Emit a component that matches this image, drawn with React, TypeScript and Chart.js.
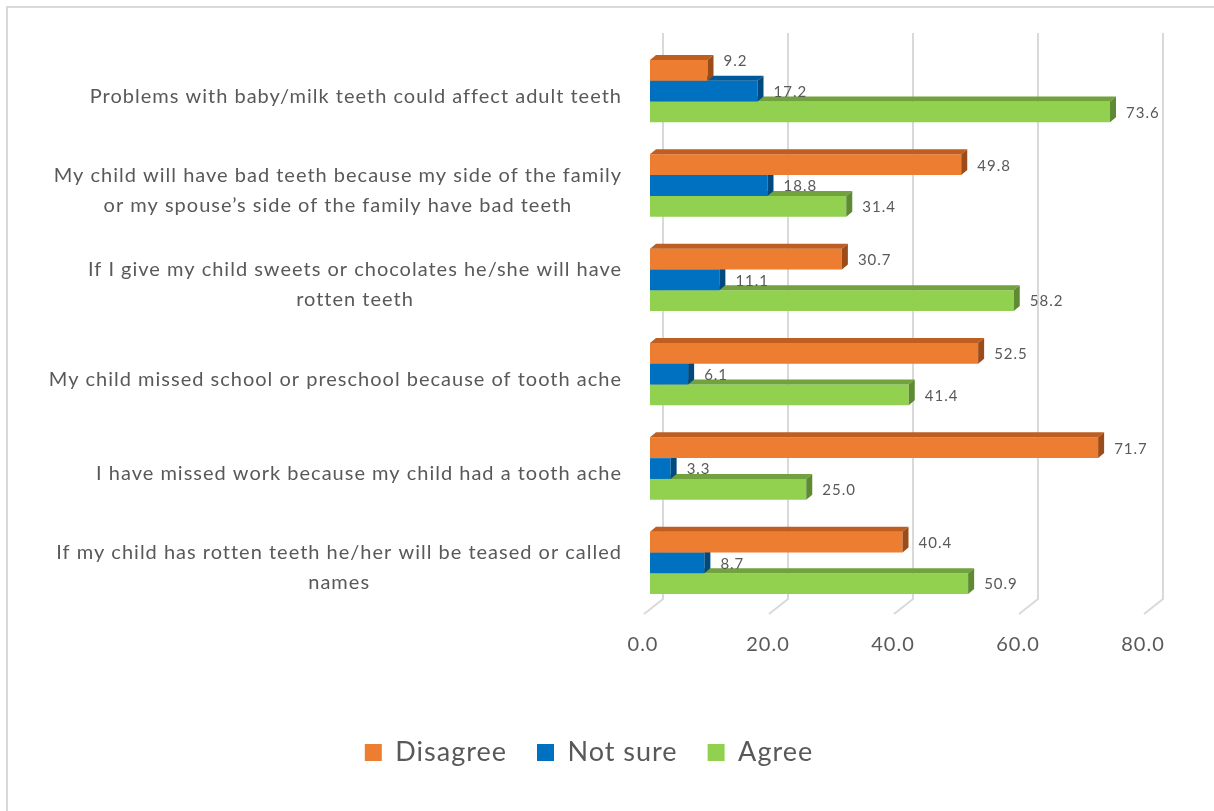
import React, { useEffect, useRef } from "react";
import { Chart, registerables } from "chart.js";

Chart.register(...registerables);

const categories: (string | string[])[] = [
  "Problems with baby/milk teeth could affect adult teeth",
  ["My child will have bad teeth because my side of the family", "or my spouse’s side of the family have bad teeth"],
  ["If I give my child sweets or chocolates he/she will have", "rotten teeth"],
  "My child missed school or preschool because of tooth ache",
  "I have missed work because my child had a tooth ache",
  ["If my child has rotten teeth he/her will be teased or called", "names"],
];

const disagree = [9.2, 49.8, 30.7, 52.5, 71.7, 40.4];
const notSure = [17.2, 18.8, 11.1, 6.1, 3.3, 8.7];
const agree = [73.6, 31.4, 58.2, 41.4, 25.0, 50.9];

const seriesNames = ["Disagree", "Not sure", "Agree"];
const xTicks = [0, 20, 40, 60, 80];

const FONT = "Lato, 'Open Sans', sans-serif";
const TEXT = "#595959";
const GRID = "#d9d9d9";

const FRONT = ["#ED7D31", "#0070C0", "#92D050"];
const TOP = ["#BE5E20", "#00599A", "#71A23D"];
const SIDE = ["#9C4C18", "#004A80", "#5E8A33"];

const DX = 6;
const DY = 5;
const LABEL_NUDGE: Record<string, number> = { "0-0": -10 };

const spacing = {
  id: "spacing",
  beforeUpdate(chart: any) {
    chart.ctx.letterSpacing = "1px";
  },
  beforeDraw(chart: any) {
    chart.ctx.letterSpacing = "1px";
  },
};

const threeD = {
  id: "threeD",
  beforeDatasetsDraw(chart: any) {
    const { ctx, chartArea, scales } = chart;
    const x = scales.x;
    ctx.save();
    ctx.strokeStyle = GRID;
    ctx.lineWidth = 2;
    for (const v of xTicks) {
      const px = x.getPixelForValue(v);
      ctx.beginPath();
      ctx.moveTo(px + 13, chartArea.top - 11);
      ctx.lineTo(px + 13, chartArea.bottom - 11);
      ctx.lineTo(px - 6, chartArea.bottom + 4);
      ctx.stroke();
    }
    ctx.restore();
  },
  afterDatasetDraw(chart: any, args: any) {
    const { ctx } = chart;
    const di = args.index;
    const meta = args.meta;
    ctx.save();
    for (const el of meta.data) {
      const { x, y, base, height } = el.getProps(["x", "y", "base", "height"], true);
      const t = y - height / 2;
      const b = y + height / 2;
      ctx.fillStyle = TOP[di];
      ctx.beginPath();
      ctx.moveTo(base, t);
      ctx.lineTo(x, t);
      ctx.lineTo(x + DX, t - DY);
      ctx.lineTo(base + DX, t - DY);
      ctx.closePath();
      ctx.fill();
      ctx.fillStyle = SIDE[di];
      ctx.beginPath();
      ctx.moveTo(x, t);
      ctx.lineTo(x + DX, t - DY);
      ctx.lineTo(x + DX, b - DY);
      ctx.lineTo(x, b);
      ctx.closePath();
      ctx.fill();
    }
    ctx.restore();
  },
  afterDatasetsDraw(chart: any) {
    const { ctx, chartArea, scales } = chart;
    ctx.save();
    ctx.letterSpacing = "1px";
    // value labels
    ctx.font = `15px ${FONT}`;
    ctx.fillStyle = TEXT;
    ctx.textAlign = "left";
    ctx.textBaseline = "middle";
    chart.data.datasets.forEach((ds: any, di: number) => {
      const meta = chart.getDatasetMeta(di);
      meta.data.forEach((el: any, i: number) => {
        const { x, y } = el.getProps(["x", "y"], true);
        const nudge = LABEL_NUDGE[`${di}-${i}`] || 0;
        ctx.fillText(Number(ds.data[i]).toFixed(1), x + DX + 10, y + 1 + nudge);
      });
    });
    // category labels
    ctx.font = `20px ${FONT}`;
    ctx.textAlign = "center";
    const right = chartArea.left - 28;
    const yScale = scales.y;
    categories.forEach((lab, i) => {
      const lines = Array.isArray(lab) ? lab : [lab];
      const maxW = Math.max(...lines.map((l) => ctx.measureText(l).width));
      const cx = right - maxW / 2;
      const cy = yScale.getPixelForValue(i) + 5;
      const lh = 30;
      lines.forEach((l, k) => {
        ctx.fillText(l, cx, cy + (k - (lines.length - 1) / 2) * lh);
      });
    });
    ctx.restore();
  },
};

export default function App() {
  const ref = useRef<HTMLCanvasElement>(null);
  useEffect(() => {
    if (!ref.current) return;
    const chart = new Chart(ref.current, {
      type: "bar",
      data: {
        labels: categories.map((c) => (Array.isArray(c) ? c.join(" ") : c)),
        datasets: [disagree, notSure, agree].map((d, i) => ({
          label: seriesNames[i],
          data: d,
          backgroundColor: FRONT[i],
          borderWidth: 0,
          categoryPercentage: 0.66,
          barPercentage: 1,
        })),
      },
      options: {
        indexAxis: "y",
        responsive: false,
        animation: false,
        layout: { padding: { left: 20, right: 64, top: 36, bottom: 35 } },
        plugins: {
          tooltip: { enabled: false },
          legend: {
            position: "bottom",
            labels: {
              boxWidth: 17,
              boxHeight: 17,
              padding: 30,
              color: TEXT,
              font: { family: FONT, size: 27 },
            },
          },
        },
        scales: {
          x: {
            min: 0,
            max: 80,
            afterBuildTicks: (s: any) => {
              s.ticks = xTicks.map((v) => ({ value: v }));
            },
            afterFit: (s: any) => {
              s.height = 99;
            },
            grid: { display: false, drawTicks: false },
            border: { display: false },
            ticks: {
              padding: 23,
              labelOffset: -7,
              color: TEXT,
              font: { family: FONT, size: 20 },
              callback: (v: any) => Number(v).toFixed(1),
            },
          },
          y: {
            afterFit: (s: any) => {
              s.width = 622;
            },
            grid: { display: false, drawTicks: false },
            border: { display: false },
            ticks: { display: false },
          },
        },
      },
      plugins: [spacing, threeD],
    });
    return () => chart.destroy();
  }, []);
  return (
    <div
      style={{
        position: "fixed",
        left: 6,
        top: 6,
        width: 1208,
        height: 805,
        borderLeft: "2px solid #d9d9d9",
        borderTop: "2px solid #d9d9d9",
        boxSizing: "border-box",
        background: "#fff",
      }}
    >
      <canvas
        ref={ref}
        width={1206}
        height={803}
        style={{ position: "absolute", left: 0, top: 0, width: 1206, height: 803 }}
      />
    </div>
  );
}
